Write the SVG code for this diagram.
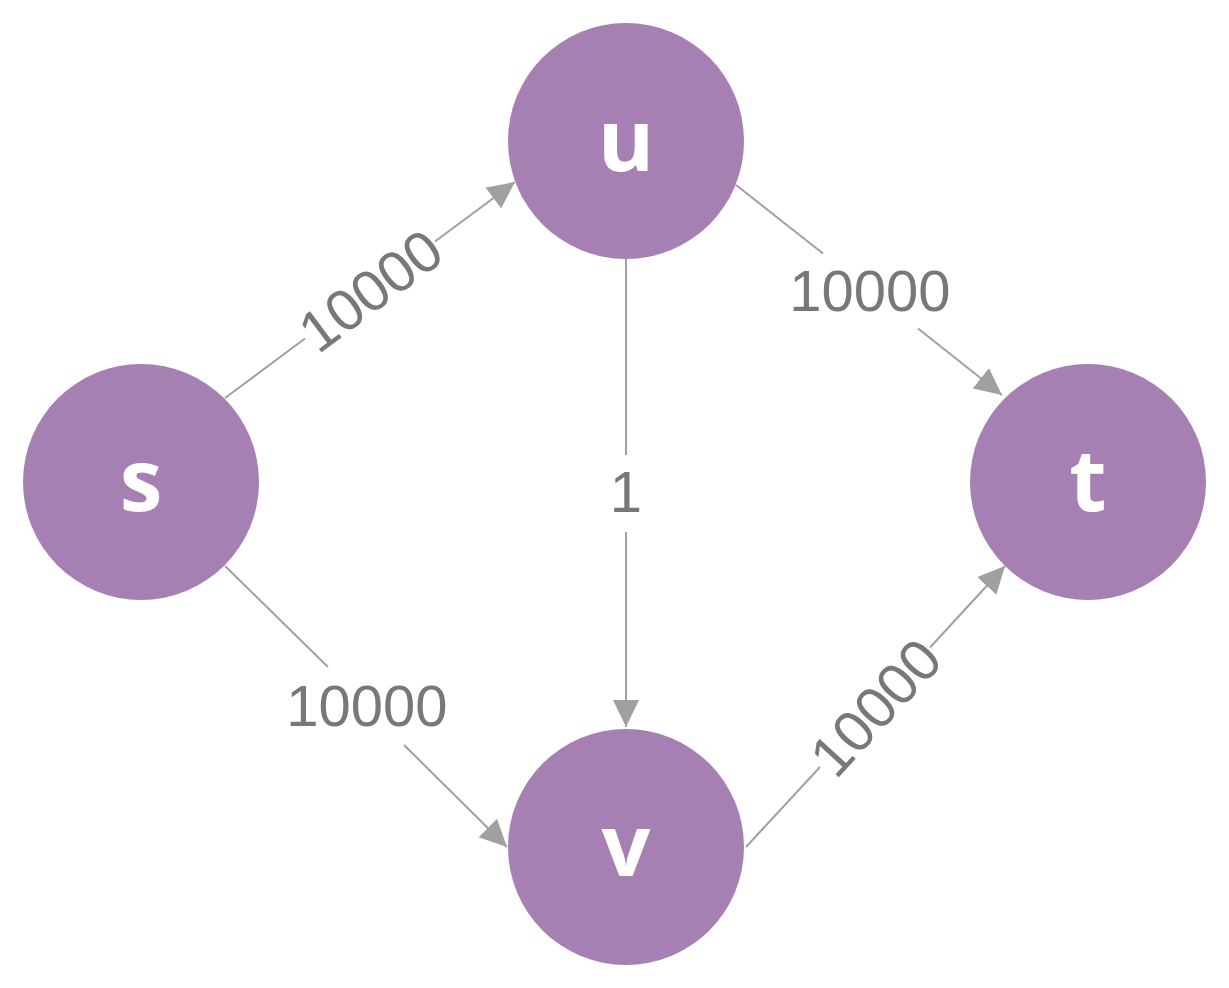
<svg xmlns="http://www.w3.org/2000/svg" width="1229" height="988" viewBox="0 0 1229 988">
  <style>
    .node circle { fill: #a67fb3; }
    .node text { fill: #ffffff; font-family: "Open Sans", "Liberation Sans", sans-serif; font-weight: bold; font-size: 86px; text-anchor: middle; }
    .edge line { stroke: #a0a0a0; stroke-width: 2; fill: none; }
    .label { fill: #787878; font-family: "Liberation Sans", Arial, sans-serif; font-size: 58px; text-anchor: middle; }
  </style>
  <defs>
    <marker id="arrow" markerUnits="userSpaceOnUse" markerWidth="30" markerHeight="28" refX="27" refY="13" orient="auto">
      <path d="M0,0 L27,13 L0,26 z" fill="#a0a0a0"/>
    </marker>
  </defs>
  <rect width="1229" height="988" fill="#ffffff"/>

  <g id="connectors">
    <!-- s -> u -->
    <g class="edge" id="edge-s-u">
      <line x1="225" y1="398" x2="305" y2="338.5"/>
      <line x1="435" y1="241.5" x2="515" y2="182" marker-end="url(#arrow)"/>
      <text class="label" transform="translate(370,290) rotate(-36.7)" y="21">10000</text>
    </g>
    <!-- u -> t -->
    <g class="edge" id="edge-u-t">
      <line x1="736" y1="185" x2="823" y2="253.5"/>
      <line x1="918" y1="328.5" x2="1002" y2="395" marker-end="url(#arrow)"/>
      <text class="label" x="870" y="311">10000</text>
    </g>
    <!-- u -> v -->
    <g class="edge" id="edge-u-v">
      <line x1="626" y1="258" x2="626" y2="455"/>
      <line x1="626" y1="532" x2="626" y2="727" marker-end="url(#arrow)"/>
      <text class="label" x="626" y="512">1</text>
    </g>
    <!-- s -> v -->
    <g class="edge" id="edge-s-v">
      <line x1="225" y1="566" x2="328" y2="667"/>
      <line x1="404" y1="745" x2="507" y2="847" marker-end="url(#arrow)"/>
      <text class="label" x="367" y="726">10000</text>
    </g>
    <!-- v -> t -->
    <g class="edge" id="edge-v-t">
      <line x1="746" y1="847" x2="820" y2="767"/>
      <line x1="930" y1="647.5" x2="1005" y2="566" marker-end="url(#arrow)"/>
      <text class="label" transform="translate(875,707) rotate(-47.3)" y="21">10000</text>
    </g>
  </g>

  <g id="node-s" class="node">
    <circle cx="141" cy="482" r="118"/>
    <text x="141" y="511">s</text>
  </g>
  <g id="node-u" class="node">
    <circle cx="626" cy="141" r="118"/>
    <text x="626" y="171">u</text>
  </g>
  <g id="node-t" class="node">
    <circle cx="1088" cy="482" r="118"/>
    <text x="1088" y="511">t</text>
  </g>
  <g id="node-v" class="node">
    <circle cx="626" cy="847" r="118"/>
    <text x="626" y="876">v</text>
  </g>
</svg>
